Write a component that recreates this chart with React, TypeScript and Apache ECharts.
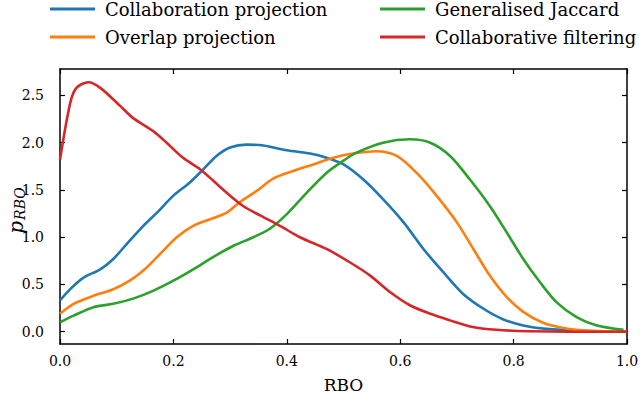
import React, { useEffect, useRef } from "react";
import * as echarts from "echarts";

const seriesNames = [
  "Collaboration projection",
  "Overlap projection",
  "Generalised Jaccard",
  "Collaborative filtering",
];
const colors = ["#1f77b4", "#ff7f0e", "#2ca02c", "#d62728"];

const blueX = [0, 0.018, 0.041, 0.071, 0.094, 0.118, 0.147, 0.171, 0.2, 0.229, 0.253, 0.276, 0.3, 0.329, 0.359, 0.4, 0.441, 0.47, 0.5, 0.535, 0.57, 0.606, 0.641, 0.676, 0.711, 0.747, 0.782, 0.817, 0.858, 0.917, 1.0];
const blueY = [0.33, 0.45, 0.57, 0.66, 0.77, 0.93, 1.12, 1.26, 1.44, 1.58, 1.72, 1.86, 1.95, 1.98, 1.97, 1.92, 1.885, 1.84, 1.77, 1.61, 1.4, 1.157, 0.875, 0.63, 0.4, 0.243, 0.13, 0.066, 0.03, 0.01, 0.0];

const orangeX = [0, 0.024, 0.059, 0.094, 0.123, 0.153, 0.176, 0.206, 0.235, 0.265, 0.294, 0.317, 0.347, 0.376, 0.411, 0.447, 0.482, 0.511, 0.558, 0.594, 0.629, 0.664, 0.7, 0.729, 0.758, 0.788, 0.817, 0.852, 0.888, 0.935, 1.0];
const orangeY = [0.19, 0.295, 0.38, 0.45, 0.54, 0.68, 0.82, 1.0, 1.12, 1.19, 1.26, 1.37, 1.49, 1.62, 1.7, 1.77, 1.84, 1.88, 1.91, 1.86, 1.68, 1.44, 1.157, 0.875, 0.594, 0.366, 0.21, 0.095, 0.04, 0.01, 0.0];

const greenX = [0, 0.024, 0.059, 0.094, 0.129, 0.165, 0.2, 0.235, 0.27, 0.306, 0.341, 0.37, 0.4, 0.435, 0.47, 0.5, 0.523, 0.57, 0.617, 0.653, 0.688, 0.723, 0.758, 0.788, 0.817, 0.847, 0.876, 0.911, 0.947, 0.994];
const greenY = [0.1, 0.17, 0.26, 0.295, 0.35, 0.435, 0.54, 0.66, 0.79, 0.91, 1.0, 1.09, 1.245, 1.47, 1.68, 1.81, 1.895, 2.0, 2.036, 2.0, 1.86, 1.61, 1.33, 1.05, 0.77, 0.52, 0.31, 0.155, 0.066, 0.02];

const redX = [0, 0.018, 0.029, 0.05, 0.071, 0.106, 0.129, 0.165, 0.188, 0.217, 0.247, 0.27, 0.294, 0.323, 0.353, 0.388, 0.423, 0.47, 0.511, 0.547, 0.582, 0.617, 0.653, 0.688, 0.723, 0.77, 0.83, 0.9, 1.0];
const redY = [1.82, 2.42, 2.58, 2.64, 2.58, 2.39, 2.26, 2.12, 2.0, 1.84, 1.72, 1.6, 1.47, 1.33, 1.23, 1.12, 1.0, 0.876, 0.735, 0.594, 0.42, 0.28, 0.19, 0.12, 0.056, 0.02, 0.005, 0.0, 0.0];

const xTicks = [0, 0.2, 0.4, 0.6, 0.8, 1.0];
const yTicks = [0, 0.5, 1.0, 1.5, 2.0, 2.5];

const FONT = "DejaVu Serif";

function zip(xs: number[], ys: number[]) {
  return xs.map((x, i) => [x, ys[i]]);
}

export default function App() {
  const ref = useRef<HTMLDivElement>(null);
  useEffect(() => {
    if (!ref.current) return;
    const chart = echarts.init(ref.current, undefined, { renderer: "svg" });
    const data = [zip(blueX, blueY), zip(orangeX, orangeY), zip(greenX, greenY), zip(redX, redY)];
    const tickStyle = { show: true, inside: true, length: 5, lineStyle: { color: "#000", width: 1.2 } };
    const lineStyle = { show: true, onZero: false, lineStyle: { color: "#000", width: 1.5 } };
    const xBase = {
      type: "value" as const,
      min: 0,
      max: 1,
      interval: 0.2,
      splitLine: { show: false },
      axisLine: lineStyle,
      axisTick: tickStyle,
    };
    const yBase = {
      type: "value" as const,
      min: -0.13,
      max: 2.78,
      splitLine: { show: false },
      axisLine: lineStyle,
      axisTick: { ...tickStyle, customValues: yTicks },
    };
    const legendBase = {
      orient: "vertical" as const,
      top: -5,
      itemWidth: 45,
      itemHeight: 3,
      itemGap: 10,
      icon: "rect",
      textStyle: { fontFamily: FONT, fontSize: 18, color: "#000", padding: [0, 0, 0, 5] },
    };
    chart.setOption({
      animation: false,
      backgroundColor: "#fff",
      textStyle: { fontFamily: FONT },
      grid: { left: 60, right: 13, top: 69, bottom: 55, containLabel: false, outerBoundsMode: "none" },
      legend: [
        { ...legendBase, left: 45, data: [seriesNames[0], seriesNames[1]] },
        { ...legendBase, left: 375, data: [seriesNames[2], seriesNames[3]] },
      ],
      xAxis: [
        {
          ...xBase,
          position: "bottom",
          name: "RBO",
          nameLocation: "middle",
          nameGap: 32,
          nameMoveOverlap: false,
          nameTextStyle: { fontFamily: FONT, fontSize: 17, color: "#000" },
          axisLabel: {
            fontFamily: FONT,
            fontSize: 14,
            color: "#000",
            margin: 10,
            customValues: xTicks,
            formatter: (v: number) => v.toFixed(1),
          },
        },
        { ...xBase, position: "top", axisLabel: { show: false } },
      ],
      yAxis: [
        {
          ...yBase,
          position: "left",
          name: "{p|p}{s|RBO}",
          nameLocation: "middle",
          nameGap: 33,
          nameMoveOverlap: false,
          nameRotate: 90,
          nameTextStyle: {
            color: "#000",
            padding: [0, 8, 0, 0],
            rich: {
              p: { fontFamily: FONT, fontStyle: "italic", fontSize: 20, color: "#000" },
              s: { fontFamily: FONT, fontStyle: "italic", fontSize: 14, color: "#000", padding: [9, 0, 0, 1] },
            },
          },
          axisLabel: {
            fontFamily: FONT,
            fontSize: 14,
            color: "#000",
            margin: 16,
            customValues: yTicks,
            formatter: (v: number) => v.toFixed(1),
          },
        },
        { ...yBase, position: "right", axisLabel: { show: false } },
      ],
      series: seriesNames.map((name, i) => ({
        name,
        type: "line",
        data: data[i],
        smooth: 0.3,
        showSymbol: false,
        symbol: "none",
        color: colors[i],
        lineStyle: { width: 2.6, color: colors[i] },
        z: 2 + i,
      })),
    });
    return () => chart.dispose();
  }, []);
  return <div ref={ref} style={{ width: 640, height: 399, position: "absolute", left: 0, top: 0 }} />;
}
